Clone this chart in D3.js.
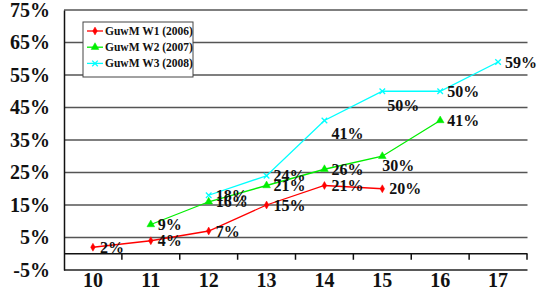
<!DOCTYPE html>
<html>
<head>
<meta charset="utf-8">
<script src="https://cdn.jsdelivr.net/npm/d3@7"></script>
<style>
  body { margin: 0; background: #fff; }
  text { font-family: "Liberation Serif", "Times New Roman", serif; font-weight: bold; }
</style>
</head>
<body>
<div class="canvas"></div>
<script>
const weeks = [10, 11, 12, 13, 14, 15, 16, 17];
const yTicks = [-5, 5, 15, 25, 35, 45, 55, 65, 75];

const w1Weeks = [10, 11, 12, 13, 14, 15];
const w1Values = [2, 4, 7, 15, 21, 20];
const w2Weeks = [11, 12, 13, 14, 15, 16];
const w2Values = [9, 16, 21, 26, 30, 41];
const w3Weeks = [12, 13, 14, 15, 16, 17];
const w3Values = [18, 24, 41, 50, 50, 59];

const seriesNames = ['GuwM W1 (2006)', 'GuwM W2 (2007)', 'GuwM W3 (2008)'];

const outerWidth = 545;
const outerHeight = 295;

const svg = d3.select('.canvas')
    .append('svg')
    .attr('width', outerWidth)
    .attr('height', outerHeight);

const x = d3.scaleBand().domain(weeks).range([64, 527]);
const y = d3.scaleLinear().domain([-5, 75]).range([270, 10]);

// series setup
const series = [
    {name: seriesNames[0], color: '#ff0000', marker: 'diamond',
     data: w1Weeks.map((w, i) => ({week: w, value: w1Values[i]}))},
    {name: seriesNames[1], color: '#00ee00', marker: 'triangle',
     data: w2Weeks.map((w, i) => ({week: w, value: w2Values[i]}))},
    {name: seriesNames[2], color: '#00ffff', marker: 'cross',
     data: w3Weeks.map((w, i) => ({week: w, value: w3Values[i]}))}
];

// label offsets for the ones that sit below their point
const belowLabels = {'1-15': [0, 9], '2-14': [7, 13], '2-15': [5, 14]};

// Gridlines
svg.append('g')
    .selectAll('line')
    .data(yTicks.filter(d => d > -5))
    .enter()
    .append('line')
    .attr('x1', 64)
    .attr('x2', 527.5)
    .attr('y1', d => y(d))
    .attr('y2', d => y(d))
    .attr('stroke', '#555')
    .attr('stroke-width', 1.5);

// Bottom border at -5%
svg.append('line')
    .attr('x1', 64).attr('x2', 527.5)
    .attr('y1', y(-5)).attr('y2', y(-5))
    .attr('stroke', '#222')
    .attr('stroke-width', 1.5);

// Y axis
const yAxis = d3.axisLeft(y)
    .tickValues(yTicks)
    .tickSize(0)
    .tickPadding(14)
    .tickFormat(d => d + '%');

const yAxisGroup = svg.append('g')
    .attr('transform', 'translate(64, 0)')
    .call(yAxis);
yAxisGroup.select('.domain').attr('stroke', '#111').attr('stroke-width', 1.5);
yAxisGroup.selectAll('text')
    .attr('font-size', 20)
    .attr('fill', '#111');

// X axis along 0%
const xAxisGroup = svg.append('g')
    .attr('transform', `translate(0, ${y(0)})`);
xAxisGroup.append('line')
    .attr('x1', 64).attr('x2', 527.5)
    .attr('stroke', '#111')
    .attr('stroke-width', 1.5);
xAxisGroup.selectAll('.tick')
    .data(weeks.slice(1).concat(['end']))
    .enter()
    .append('line')
    .attr('x1', d => d === 'end' ? 527 : x(d))
    .attr('x2', d => d === 'end' ? 527 : x(d))
    .attr('y1', 0)
    .attr('y2', 6)
    .attr('stroke', '#111')
    .attr('stroke-width', 1.5);

// X labels below the frame
const xAxis = d3.axisBottom(x).tickSize(0).tickPadding(0);
const xLabelGroup = svg.append('g')
    .attr('transform', `translate(0, ${y(-5)})`)
    .call(xAxis);
xLabelGroup.select('.domain').remove();
xLabelGroup.selectAll('text')
    .attr('font-size', 20)
    .attr('fill', '#111')
    .attr('dy', 0)
    .attr('y', 17);

// line generator
const line = d3.line()
    .x(d => x(d.week) + x.bandwidth() / 2)
    .y(d => y(d.value));

const markerPath = {
    diamond: d3.symbol().type(d3.symbolDiamond).size(18),
    triangle: d3.symbol().type(d3.symbolTriangle).size(26),
    cross: d3.symbol().type(d3.symbolX).size(22)
};

series.forEach((s, si) => {
    svg.append('path')
        .datum(s.data)
        .attr('fill', 'none')
        .attr('stroke', s.color)
        .attr('stroke-width', 1.3)
        .attr('d', line);

    svg.append('g')
        .selectAll('path')
        .data(s.data)
        .enter()
        .append('path')
        .attr('transform', d => `translate(${x(d.week) + x.bandwidth() / 2}, ${y(d.value)})`)
        .attr('d', markerPath[s.marker])
        .attr('fill', s.color)
        .attr('stroke', s.color)
        .attr('stroke-width', s.marker === 'cross' ? 1.3 : 0.5);

    svg.append('g')
        .selectAll('text')
        .data(s.data)
        .enter()
        .append('text')
        .attr('x', d => {
            const off = belowLabels[si + '-' + d.week];
            return x(d.week) + x.bandwidth() / 2 + (off ? off[0] : 7);
        })
        .attr('y', d => {
            const off = belowLabels[si + '-' + d.week];
            return y(d.value) + (off ? off[1] : 0);
        })
        .attr('dy', '0.35em')
        .attr('font-size', 16)
        .attr('fill', '#111')
        .text(d => d.value + '%');
});

// Legend
const legend = svg.append('g')
    .attr('transform', 'translate(83, 22)');

legend.append('rect')
    .attr('width', 110)
    .attr('height', 55)
    .attr('fill', '#fff')
    .attr('stroke', '#444')
    .attr('stroke-width', 1);

series.forEach((s, i) => {
    const row = legend.append('g')
        .attr('transform', `translate(0, ${9 + i * 16.2})`);
    row.append('line')
        .attr('x1', 4).attr('x2', 20)
        .attr('stroke', s.color)
        .attr('stroke-width', 1.3);
    row.append('path')
        .attr('transform', 'translate(12, 0)')
        .attr('d', markerPath[s.marker])
        .attr('fill', s.color)
        .attr('stroke', s.color)
        .attr('stroke-width', s.marker === 'cross' ? 1.3 : 0.5);
    row.append('text')
        .attr('x', 22)
        .attr('dy', '0.35em')
        .attr('font-size', 11.5)
        .attr('fill', '#111')
        .text(s.name);
});
</script>
</body>
</html>
